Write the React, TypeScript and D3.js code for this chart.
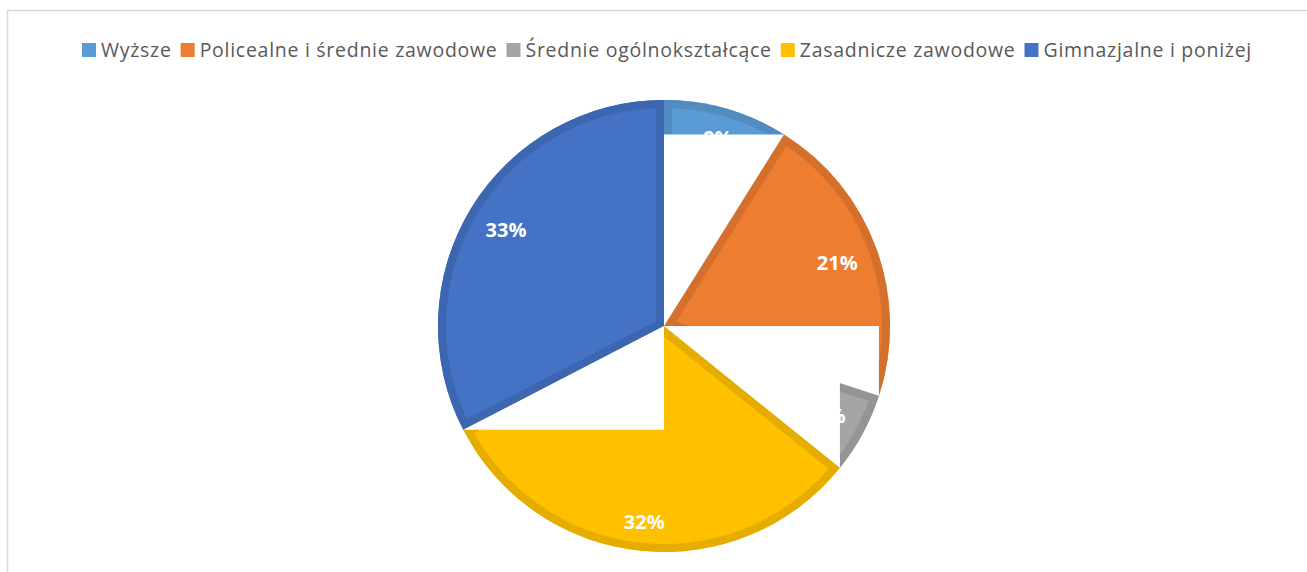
import React, { useEffect, useRef } from "react";
import * as d3 from "d3";

const categories = [
  "Wyższe",
  "Policealne i średnie zawodowe",
  "Średnie ogólnokształcące",
  "Zasadnicze zawodowe",
  "Gimnazjalne i poniżej",
];
const values = [8.9, 21.1, 5.8, 31.6, 32.6];
const colors = ["#5B9BD5", "#ED7D31", "#A5A5A5", "#FFC000", "#4472C4"];

const W = 1307;
const H = 572;
const CX = 664;
const CY = 326;
const R = 226;
const BORDER = 8;
const LEGEND_LEFT = 82;
const LEGEND_RIGHT = 1252;
const LEGEND_BASE = 57;
const KEY = 14;
const KEY_GAP = 5;
const ITEM_GAP = 9;
const FONT = "'Open Sans', 'Noto Sans', sans-serif";

export default function App() {
  const ref = useRef<SVGSVGElement>(null);

  useEffect(() => {
    const svg = d3.select(ref.current as SVGSVGElement);
    svg.selectAll("*").remove();

    svg
      .append("rect")
      .attr("x", 7.5)
      .attr("y", 10.5)
      .attr("width", 1340)
      .attr("height", 640)
      .attr("fill", "#ffffff")
      .attr("stroke", "#d9d9d9")
      .attr("stroke-width", 1.5);

    const defs = svg.append("defs");
    const pie = d3.pie<number>().sort(null).value((d) => d);
    const arcs = pie(values);
    const arc = d3
      .arc<d3.PieArcDatum<number>>()
      .innerRadius(0)
      .outerRadius(R);
    const total = d3.sum(values);

    const g = svg.append("g").attr("transform", `translate(${CX},${CY})`);

    arcs.forEach((a, i) => {
      const id = `slice-clip-${i}`;
      defs.append("clipPath").attr("id", id).append("path").attr("d", arc(a) as string);
      g.append("path").attr("d", arc(a) as string).attr("fill", colors[i]);
      g.append("path")
        .attr("d", arc(a) as string)
        .attr("fill", "none")
        .attr("stroke", (d3.color(colors[i]) as d3.RGBColor).darker(0.3).formatHex())
        .attr("stroke-width", BORDER * 2)
        .attr("stroke-linejoin", "miter")
        .attr("clip-path", `url(#${id})`);
    });

    // data labels
    arcs.forEach((a) => {
      const mid = (a.startAngle + a.endAngle) / 2;
      const t = g
        .append("text")
        .text(`${Math.round((a.value / total) * 100)}%`)
        .attr("font-family", FONT)
        .attr("font-weight", 700)
        .attr("font-size", 20)
        .attr("fill", "#ffffff")
        .attr("text-anchor", "middle");
      const w = (t.node() as SVGTextElement).getComputedTextLength();
      const hw = w / 2;
      const hh = 7;
      const r = 206 - (hw * Math.abs(Math.sin(mid)) + hh * Math.abs(Math.cos(mid)));
      t.attr("x", r * Math.sin(mid)).attr("y", -r * Math.cos(mid) + 7);
    });

    // white triangles
    arcs.forEach((a) => {
      const e = a.endAngle;
      const ex = R * Math.sin(e);
      const ey = -R * Math.cos(e);
      const q = Math.min(3, Math.floor(e / (Math.PI / 2) - 1e-9));
      const corner: [number, number] = q % 2 === 0 ? [0, ey] : [ex, 0];
      const pts: [number, number][] = [[0, 0], corner, [ex, ey]];
      g.append("path")
        .attr("d", (d3.line()(pts) as string) + "Z")
        .attr("fill", "#ffffff");
    });

    // legend
    const lg = svg.append("g");
    const texts = categories.map((c) =>
      lg
        .append("text")
        .text(c)
        .attr("font-family", FONT)
        .attr("font-size", 19.5)
        .attr("fill", "#595959")
        .attr("y", LEGEND_BASE)
    );
    const natural = d3.sum(texts, (t) => (t.node() as SVGTextElement).getComputedTextLength());
    const chars = d3.sum(categories, (c) => c.length);
    const target =
      LEGEND_RIGHT - LEGEND_LEFT - categories.length * (KEY + KEY_GAP) - (categories.length - 1) * ITEM_GAP;
    const ls = (target - natural) / chars;
    let x = LEGEND_LEFT;
    texts.forEach((t, i) => {
      t.attr("letter-spacing", ls);
      lg.append("rect")
        .attr("x", x)
        .attr("y", LEGEND_BASE - KEY)
        .attr("width", KEY)
        .attr("height", KEY)
        .attr("fill", colors[i]);
      t.attr("x", x + KEY + KEY_GAP);
      const len = (t.node() as SVGTextElement).getComputedTextLength();
      x += KEY + KEY_GAP + len + ITEM_GAP;
    });
  }, []);

  return (
    <svg
      ref={ref}
      width={W}
      height={H}
      style={{ position: "absolute", left: 0, top: 0, display: "block" }}
    />
  );
}
